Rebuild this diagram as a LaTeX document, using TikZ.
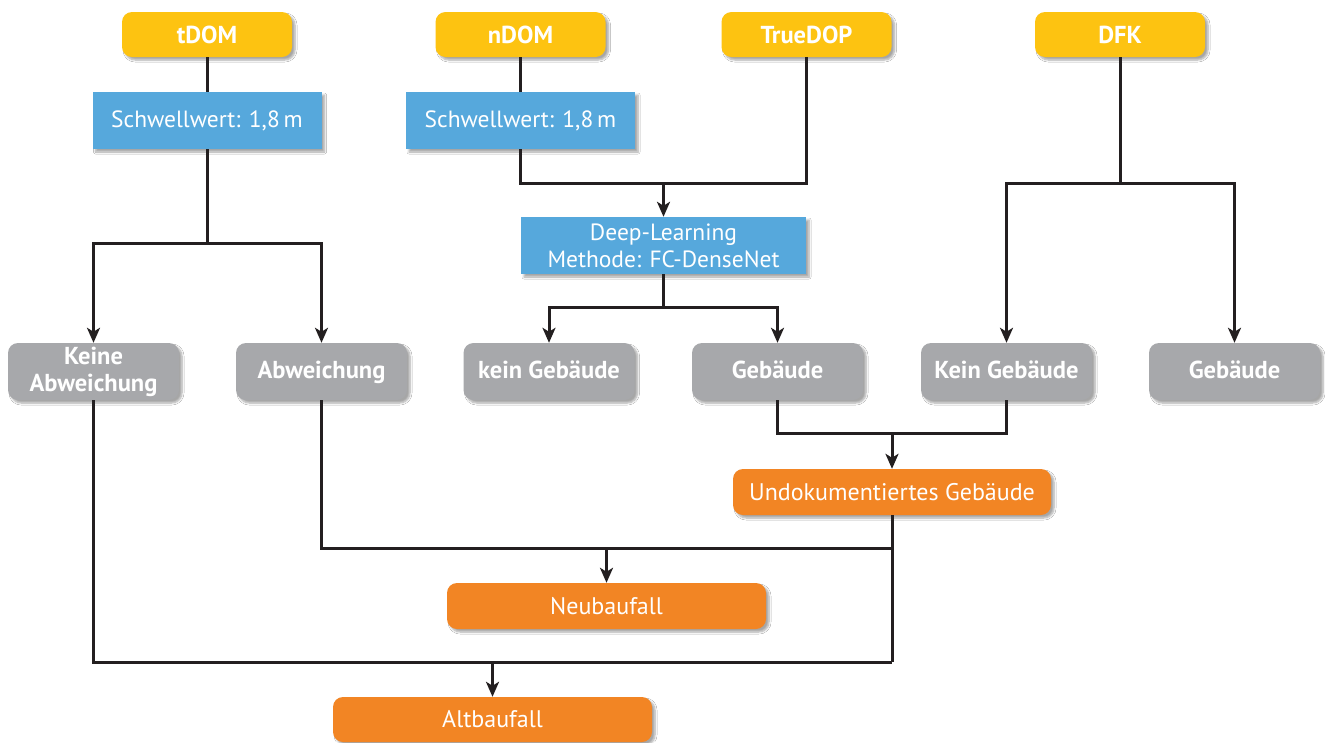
\documentclass[tikz,border=0pt]{standalone}
\usepackage{fontspec}
\setmainfont{PT Sans}
\usetikzlibrary{arrows.meta,shadows.blur}
\definecolor{cyel}{HTML}{FDC311}
\definecolor{cblue}{HTML}{56A8DC}
\definecolor{cgray}{HTML}{A7A8AB}
\definecolor{corange}{HTML}{F28524}
\definecolor{cline}{HTML}{231F20}
\begin{document}
\begin{tikzpicture}[x=1pt,y=-1pt,
 base/.style={text=white, align=center, inner sep=0pt, blur shadow={shadow xshift=3pt, shadow yshift=-3pt, shadow blur steps=6, shadow opacity=35}},
 ybox/.style={base, fill=cyel, rounded corners=10pt, minimum width=170pt, minimum height=45pt, font=\fontsize{24.5}{27}\selectfont\bfseries},
 bbox/.style={base, fill=cblue, minimum width=229pt, minimum height=57pt, font=\fontsize{23.5}{27}\selectfont},
 gbox/.style={base, fill=cgray, rounded corners=10pt, minimum width=171pt, minimum height=57pt, font=\fontsize{24.5}{27}\selectfont\bfseries},
 gone/.style={gbox, text height=19pt, text depth=6pt},
 obox/.style={base, fill=corange, rounded corners=10pt, minimum width=318pt, minimum height=46pt, font=\fontsize{24}{27}\selectfont},
 conn/.style={line width=3pt, draw=cline},
 arr/.style={conn, -{Stealth[length=15pt,width=13pt,inset=4pt]}},
]
\fill[white] (0,0) rectangle (1325,742);
\useasboundingbox (0,0) rectangle (1325,742);

% top row
\node[ybox] (tdom) at (207,34.5) {tDOM};
\node[ybox] (ndom) at (520.5,34.5) {nDOM};
\node[ybox] (tdop) at (806.5,34.5) {TrueDOP};
\node[ybox] (dfk) at (1120,34.5) {DFK};

% blue
\node[bbox] (s1) at (207,120.5) {Schwellwert: 1,8\,m};
\node[bbox] (s2) at (520.5,120.5) {Schwellwert: 1,8\,m};
\node[bbox, minimum width=285pt] (dl) at (663.5,245.5) {Deep-Learning\\Methode: FC-DenseNet};

% gray
\node[gbox] (kA) at (93.5,371.5) {Keine\\Abweichung};
\node[gone] (ab) at (321.5,371.5) {Abweichung};
\node[gone] (kg) at (549,371.5) {kein Gebäude};
\node[gone] (g1) at (777.5,371.5) {Gebäude};
\node[gone] (kg2) at (1006.5,371.5) {Kein Gebäude};
\node[gone] (g2) at (1234.5,371.5) {Gebäude};

% orange
\node[obox] (und) at (892,492) {Undokumentiertes Gebäude};
\node[obox, minimum width=319pt] (neu) at (606.5,606) {Neubaufall};
\node[obox, minimum width=319pt, minimum height=45pt] (alt) at (492.5,719.5) {Altbaufall};

% junctions
\coordinate (j1) at (207,243);
\coordinate (j2) at (663.5,183);
\coordinate (j3) at (1120,183);
\coordinate (j4) at (663.5,307);
\coordinate (j7) at (892,433);
\coordinate (j5) at (892,548);
\coordinate (j6) at (892,662);

% connectors
\draw[conn] (tdom) -- (s1);
\draw[conn] (s1.south) -- (j1);
\draw[arr] (j1) -| (kA.north);
\draw[arr] (j1) -| (ab.north);

\draw[conn] (ndom) -- (s2);
\draw[conn] (s2.south) |- (j2);
\draw[conn] (tdop.south) |- (j2);
\draw[arr] (j2) -- (dl.north);

\draw[conn] (dfk.south) -- (j3);
\draw[arr] (j3) -| (kg2.north);
\draw[arr] (j3) -| (g2.north);

\draw[conn] (dl.south) -- (j4);
\draw[arr] (j4) -| (kg.north);
\draw[arr] (j4) -| (g1.north);

\draw[conn] (g1.south) |- (j7);
\draw[conn] (kg2.south) |- (j7);
\draw[arr] (j7) -- (und.north);

\draw[conn] (und.south) -- (j6);
\draw[conn] (ab.south) |- (j5);
\draw[arr] (neu.north |- j5) -- (neu.north);
\draw[conn] (kA.south) |- (j6);
\draw[arr] (alt.north |- j6) -- (alt.north);
\end{tikzpicture}
\end{document}
